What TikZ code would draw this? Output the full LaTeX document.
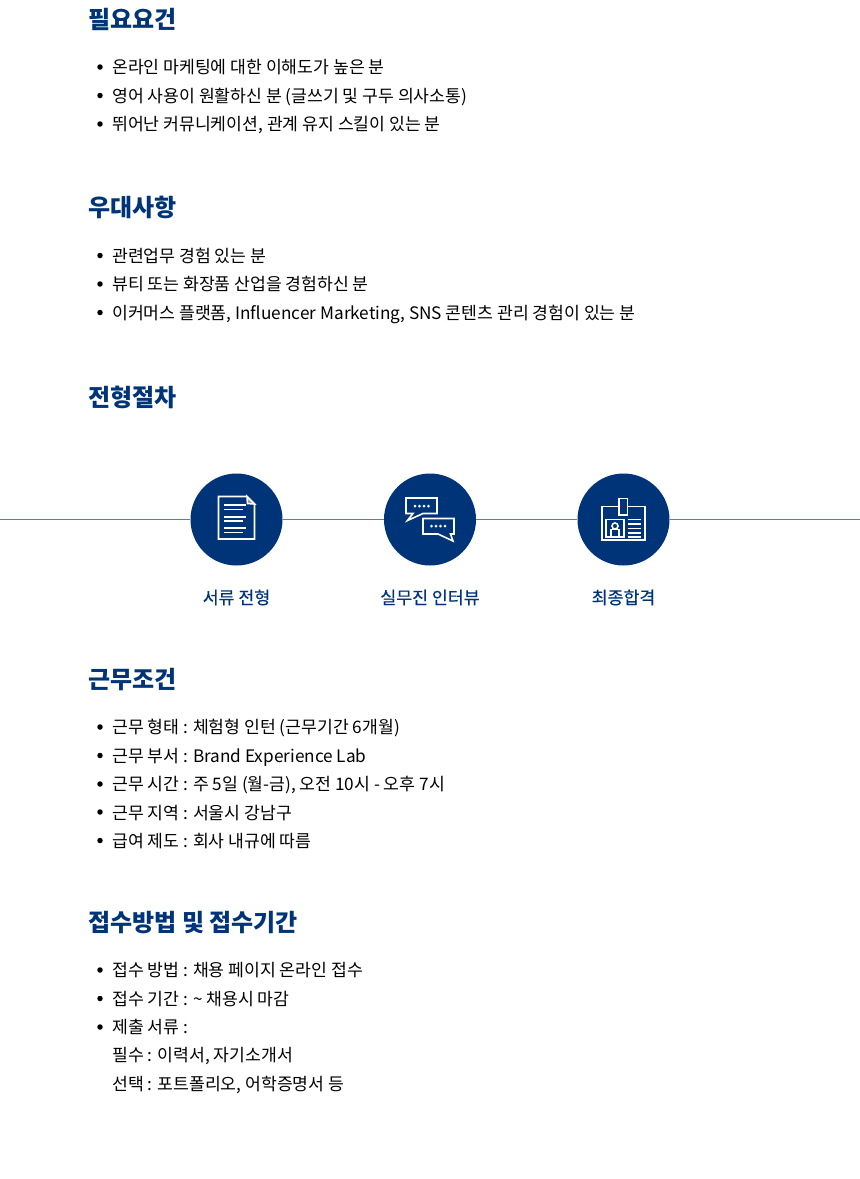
\documentclass[tikz,border=0pt]{standalone}
\usepackage{fontspec}
\setmainfont{Noto Sans CJK KR}
\newfontfamily\labelfont[FakeBold=0.4]{Noto Sans CJK KR}
\usepackage{tikz}
\definecolor{navyblue}{RGB}{0, 52, 120}
\definecolor{steelline}{RGB}{90, 125, 185}
\tikzset{
    headtext/.style={anchor=base west, inner sep=0pt, text=navyblue, font=\fontsize{24}{24}\selectfont\bfseries},
    itemtext/.style={anchor=base west, inner sep=0pt, text=black, font=\fontsize{17.2}{17.2}\selectfont},
    stagetext/.style={anchor=base, inner sep=0pt, text=navyblue, font=\fontsize{17.3}{17.3}\selectfont\labelfont},
    itemdot/.style={circle, fill=black, inner sep=0pt, minimum size=5.5pt},
    stagedisc/.style={circle, fill=navyblue, inner sep=0pt, minimum size=92pt},
    iconline/.style={color=white, line width=1.6pt},
    stageline/.style={draw=steelline, line width=1.2pt}
}

\begin{document}
\begin{tikzpicture}[x=1pt, y=-1pt]
            \useasboundingbox (0,0) rectangle (860,1179);
            % Requirements
            \node[headtext] (needhead) at (88,28) {필요요건};
            \node[itemdot] (needdota) at (100,67) {};
            \node[itemtext] (needa) at (112,73.5) {온라인 마케팅에 대한 이해도가 높은 분};
            \node[itemdot] (needdotb) at (100,95.5) {};
            \node[itemtext] (needb) at (112,102) {영어 사용이 원활하신 분 (글쓰기 및 구두 의사소통)};
            \node[itemdot] (needdotc) at (100,124) {};
            \node[itemtext] (needc) at (112,130.5) {뛰어난 커뮤니케이션, 관계 유지 스킬이 있는 분};
            % Preferred
            \node[headtext] (plushead) at (88,216) {우대사항};
            \node[itemdot] (plusdota) at (100,255.5) {};
            \node[itemtext] (plusa) at (112,262) {관련업무 경험 있는 분};
            \node[itemdot] (plusdotb) at (100,284) {};
            \node[itemtext] (plusb) at (112,290.5) {뷰티 또는 화장품 산업을 경험하신 분};
            \node[itemdot] (plusdotc) at (100,312.5) {};
            \node[itemtext] (plusc) at (112,319) {이커머스 플랫폼, Influencer Marketing, SNS 콘텐츠 관리 경험이 있는 분};
            % Process
            \node[headtext] (stephead) at (88,406) {전형절차};
            \coordinate (lineleft) at (0,519.5);
            \coordinate (lineright) at (860,519.5);
            \node[stagedisc] (paperdisc) at (236.5,519.5) {};
            \node[stagedisc] (talkdisc) at (430,519.5) {};
            \node[stagedisc] (passdisc) at (623.5,519.5) {};
            \draw[stageline] (lineleft) -- (paperdisc);
            \draw[stageline] (paperdisc) -- (talkdisc);
            \draw[stageline] (talkdisc) -- (passdisc);
            \draw[stageline] (passdisc) -- (lineright);
            \node[stagetext] (paperlabel) at (236.5,604) {서류 전형};
            \node[stagetext] (talklabel) at (430,604) {실무진 인터뷰};
            \node[stagetext] (passlabel) at (623.5,604) {최종합격};
            % Paper icon
            \draw[iconline] (218.5,496.5) -- (247,496.5) -- (254.5,504) -- (254.5,539) -- (218.5,539) -- cycle;
            \draw[iconline, fill=white, fill opacity=0.5] (247,496.5) -- (254.5,504) -- (247.5,503.5) -- cycle;
            \draw[iconline] (224,505) -- (246,505);
            \draw[iconline] (224,509.5) -- (243,509.5);
            \draw[iconline] (224,517) -- (246,517);
            \draw[iconline] (224,521) -- (243,521);
            \draw[iconline] (224,528) -- (246,528);
            \draw[iconline] (224,532.5) -- (243,532.5);
            % Talk icon
            \draw[iconline] (406,498) -- (437,498) -- (437,513.5) -- (423,513.5) -- (407.5,520.5) -- (413,513.5) -- (406,513.5) -- cycle;
            \draw[iconline] (423,518.5) -- (454,518.5) -- (454,534) -- (450.5,534) -- (453,541) -- (438,534) -- (423,534) -- cycle;
            \fill[white] (415,506) circle (1.5pt) (419.5,506) circle (1.5pt) (424,506) circle (1.5pt) (428.5,506) circle (1.5pt);
            \fill[white] (431.5,526) circle (1.5pt) (436,526) circle (1.5pt) (440.5,526) circle (1.5pt) (445,526) circle (1.5pt);
            % Badge icon
            \draw[iconline] (602,506.5) rectangle (645,540);
            \draw[iconline, fill=navyblue] (619,498.5) rectangle (627.5,515);
            \draw[iconline] (606,519.5) rectangle (624,537);
            \draw[iconline] (615,526) circle (3pt);
            \draw[iconline] (611,537) -- (611,529.5) -- (619,529.5) -- (619,537);
            \draw[iconline] (627.5,519.5) -- (641,519.5);
            \draw[iconline] (627.5,524) -- (641,524);
            \draw[iconline] (627.5,528.5) -- (641,528.5);
            \draw[iconline] (627.5,533) -- (641,533);
            \draw[iconline] (627.5,537) -- (641,537);
            % Work conditions
            \node[headtext] (workhead) at (88,688) {근무조건};
            \node[itemdot] (workdota) at (100,727) {};
            \node[itemtext] (worka) at (112,733.5) {근무 형태 : 체험형 인턴 (근무기간 6개월)};
            \node[itemdot] (workdotb) at (100,755.5) {};
            \node[itemtext] (workb) at (112,762) {근무 부서 : Brand Experience Lab};
            \node[itemdot] (workdotc) at (100,784) {};
            \node[itemtext] (workc) at (112,790.5) {근무 시간 : 주 5일 (월-금), 오전 10시 - 오후 7시};
            \node[itemdot] (workdotd) at (100,812) {};
            \node[itemtext] (workd) at (112,819) {근무 지역 : 서울시 강남구};
            \node[itemdot] (workdote) at (100,840.5) {};
            \node[itemtext] (worke) at (112,847) {급여 제도 : 회사 내규에 따름};
            % Application
            \node[headtext] (sendhead) at (88,931) {접수방법 및 접수기간};
            \node[itemdot] (senddota) at (100,970) {};
            \node[itemtext] (senda) at (112,976.5) {접수 방법 : 채용 페이지 온라인 접수};
            \node[itemdot] (senddotb) at (100,998.5) {};
            \node[itemtext] (sendb) at (112,1005) {접수 기간 : \textasciitilde{} 채용시 마감};
            \node[itemdot] (senddotc) at (100,1027) {};
            \node[itemtext] (sendc) at (112,1033.5) {제출 서류 :};
            \node[itemtext] (sendd) at (112,1061.5) {필수 : 이력서, 자기소개서};
            \node[itemtext] (sende) at (112,1090) {선택 : 포트폴리오, 어학증명서 등};
        \end{tikzpicture}
\end{document}
